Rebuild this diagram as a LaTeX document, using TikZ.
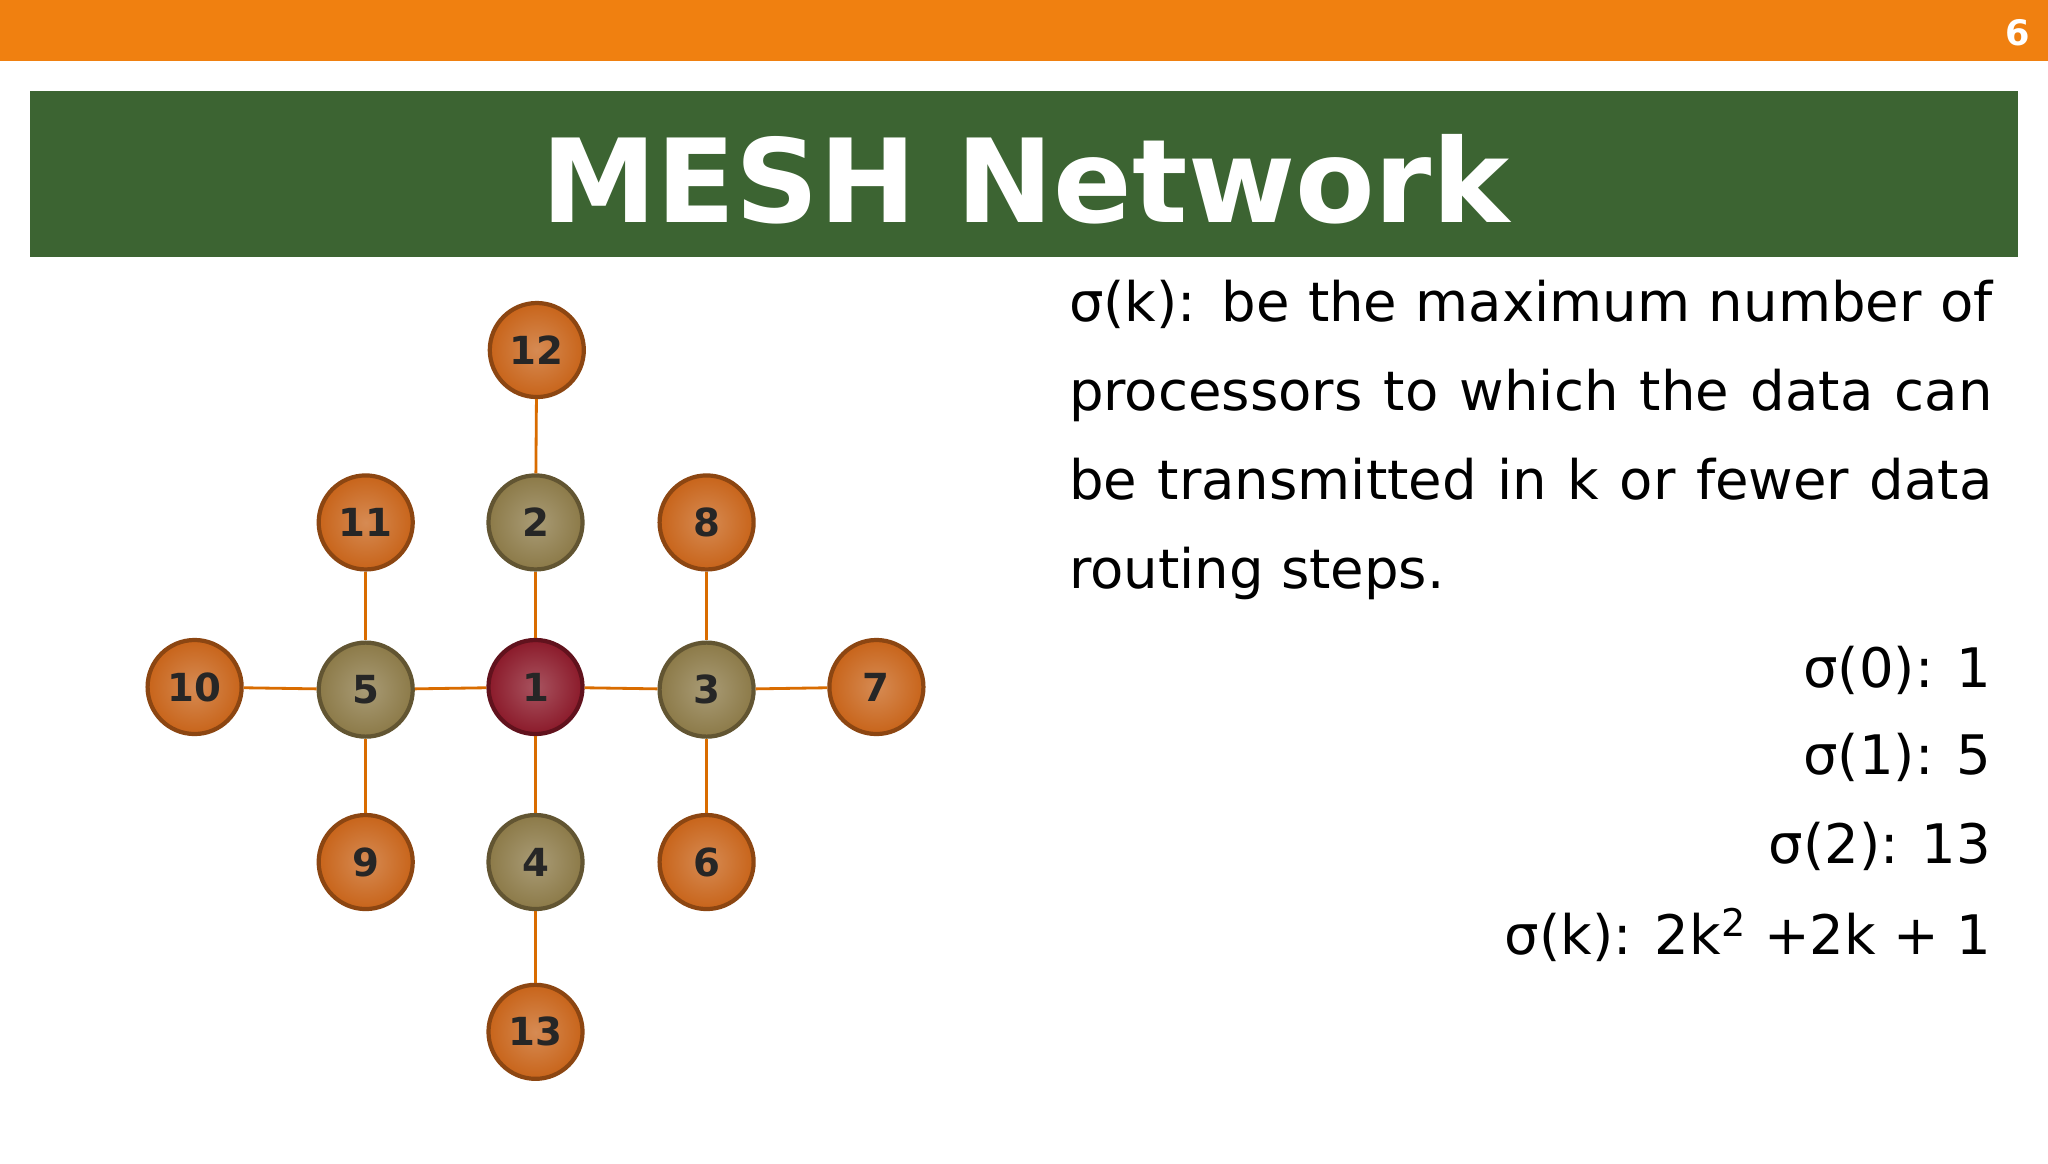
\documentclass[tikz,border=0pt]{standalone}
\usepackage{fontspec}
\setmainfont{DejaVu Sans}
\begin{document}
\begin{tikzpicture}[x=0.01306cm,y=-0.01306cm,
  ball/.style={circle,minimum size=72*0.01306cm,inner sep=0pt,draw=#1!70!black,line width=1.2pt,
     inner color=#1!75!white,outer color=#1,font=\fontsize{11}{13}\selectfont\bfseries,text=black!85},
  link/.style={draw=orange!85!black,line width=0.8pt}]
\definecolor{bar}{HTML}{F08010}
\definecolor{grn}{HTML}{3C6432}
\definecolor{oran}{HTML}{C8641A}
\definecolor{tan}{HTML}{8C7A48}
\definecolor{red}{HTML}{8B1A2A}
\useasboundingbox (0,0) rectangle (1568,891);
\fill[white] (0,0) rectangle (1568,891);
\fill[bar] (0,0) rectangle (1568,47);
\node[text=white,font=\fontsize{10}{12}\selectfont\bfseries] (pg) at (1545,25) {6};
\fill[grn] (23,70) rectangle (1545,197);
\node[text=white,font=\fontsize{33}{36}\selectfont\bfseries] (title) at (785,137) {MESH Network};
\node[ball=oran] (n12) at (411,268) {12};
\node[ball=oran] (n11) at (280,400) {11};
\node[ball=tan] (n2) at (410,400) {2};
\node[ball=oran] (n8) at (541,400) {8};
\node[ball=oran] (n10) at (149,526) {10};
\node[ball=tan] (n5) at (280,528) {5};
\node[ball=red] (n1) at (410,526) {1};
\node[ball=tan] (n3) at (541,528) {3};
\node[ball=oran] (n7) at (671,526) {7};
\node[ball=oran] (n9) at (280,660) {9};
\node[ball=tan] (n4) at (410,660) {4};
\node[ball=oran] (n6) at (541,660) {6};
\node[ball=oran] (n13) at (410,790) {13};
\foreach \a/\b in {n12/n2,n2/n1,n1/n4,n4/n13,n10/n5,n5/n1,n1/n3,n3/n7,n11/n5,n5/n9,n8/n3,n3/n6}
  \draw[link] (\a) -- (\b);
\node[anchor=north west,text width=707*0.01306cm,align=justify,inner sep=0pt,
  font=\fontsize{15.5}{25.3}\selectfont] (txt) at (818,214)
  {σ(k): be the maximum number of\linebreak processors to which the data can\linebreak be transmitted in k or fewer data\linebreak routing steps.};
\begin{scope}[every node/.style={anchor=east,inner sep=0pt,font=\fontsize{15.5}{18}\selectfont}]
\node (s0) at (1525,513) {σ(0): 1};
\node (s1) at (1525,580) {σ(1): 5};
\node (s2) at (1525,648) {σ(2): 13};
\node (sk) at (1525,716) {σ(k): 2k\textsuperscript{2} +2k + 1};
\end{scope}
\end{tikzpicture}
\end{document}
